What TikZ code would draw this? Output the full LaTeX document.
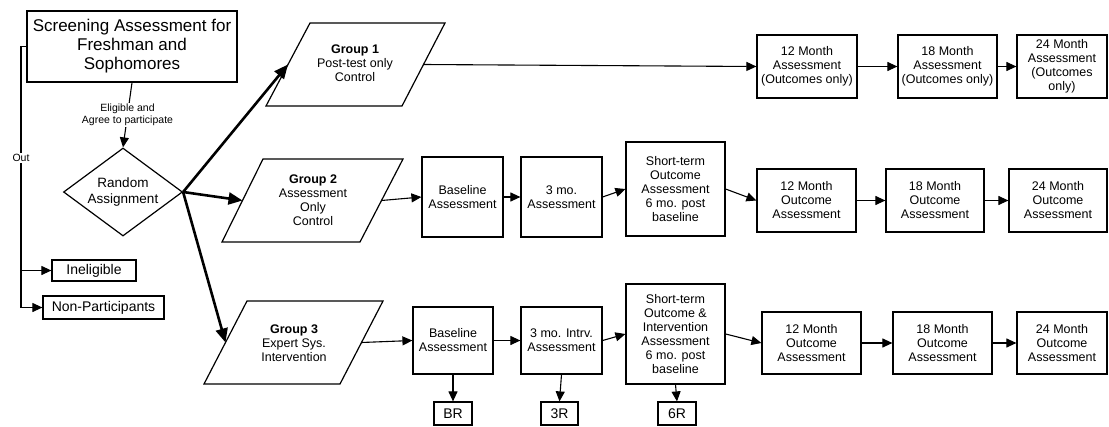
\documentclass[tikz,border=0pt]{standalone}
\usepackage{fontspec}
\setmainfont{Liberation Sans}
\usetikzlibrary{arrows.meta,shapes.geometric}
\newcommand\myfs{\fontsize{12.5}{14}\selectfont}
\newcommand\mybig{\fontsize{17}{19}\selectfont}
\newcommand\mysmall{\fontsize{10.5}{12}\selectfont}
\newcommand\mymid{\fontsize{14}{16}\selectfont}
\begin{document}
\begin{tikzpicture}[x=1pt,y=-1pt,
  box/.style={draw, line width=1.2pt, rectangle, align=center, inner sep=0pt, font=\myfs},
  txt/.style={align=center, inner sep=0pt, font=\myfs},
  lbl/.style={align=center, inner sep=1pt, font=\mysmall, fill=white},
  arr/.style={line width=1.1pt, -{Triangle[length=10pt,width=9pt]}},
  thick arr/.style={line width=2.6pt, -{Triangle[length=14pt,width=12pt]}},
  para/.style={draw, line width=1.2pt, line join=miter}
]
\useasboundingbox (0,0) rectangle (1109,426);

% left part
\node[box, font=\mybig, minimum width=210, minimum height=71] (scr) at (132,46.5)
  {Screening Assessment for\\Freshman and\\Sophomores};
\node[box, font=\mymid, minimum width=84, minimum height=21] (inel) at (94,270.5) {Ineligible};
\node[box, font=\mymid, minimum width=121, minimum height=23] (nonp) at (103.5,307.5) {Non-Participants};
\node[draw, line width=1.2pt, diamond, minimum width=119, minimum height=88, inner sep=0pt] (rand) at (123,192) {};
\node[txt, font=\fontsize{13.5}{16}\selectfont] (randt) at (123,192) {Random\\Assignment};

\coordinate (outcorner) at (21,46.5);
\draw[arr] (scr.west) -- (outcorner) |- (nonp.west);
\draw[arr] (outcorner |- inel.west) -- (inel.west);
\node[lbl] (outlbl) at (21,158) {Out};
\draw[arr] (scr.south) -- node[lbl] (elig) {Eligible and\\Agree to participate} (rand.north);

% groups (parallelograms)
\draw[para] (310,23) -- (445,23) -- (402,106) -- (266,106) -- cycle;
\draw[para] (263,159) -- (403,159) -- (360,242) -- (222,242) -- cycle;
\draw[para] (247,301) -- (383,301) -- (340,384) -- (204,384) -- cycle;
\coordinate (g1in) at (288,64.5);
\coordinate (g1out) at (423.5,64.5);
\coordinate (g2in) at (242.5,200.5);
\coordinate (g2out) at (381.5,200.5);
\coordinate (g3in) at (225.5,342.5);
\coordinate (g3out) at (361.5,342.5);
\node[txt] (g1) at (355,63) {\textbf{Group 1}\\Post-test only\\Control};
\node[txt] (g2) at (313,200) {\textbf{Group 2}\\Assessment\\Only\\Control};
\node[txt] (g3) at (294,343) {\textbf{Group 3}\\Expert Sys.\\Intervention};

\draw[thick arr] (rand.east) -- (g1in);
\draw[thick arr] (rand.east) -- (g2in);
\draw[thick arr] (rand.east) -- (g3in);

% row 1
\node[box, minimum width=100, minimum height=63] (r1a) at (807,66.5) {12 Month\\Assessment\\(Outcomes only)};
\node[box, minimum width=99, minimum height=63] (r1b) at (947.5,66.5) {18 Month\\Assessment\\(Outcomes only)};
\node[box, minimum width=90, minimum height=63] (r1c) at (1062,66.5) {24 Month\\Assessment\\(Outcomes\\only)};
\draw[arr] (g1out) -- (r1a.west);
\draw[arr] (r1a.east) -- (r1b.west);
\draw[arr] (r1b.east) -- (r1c.west);

% row 2
\node[box, minimum width=81, minimum height=80] (r2base) at (462.5,197) {Baseline\\Assessment};
\node[box, minimum width=81, minimum height=80] (r2three) at (561.5,197) {3 mo.\\Assessment};
\node[box, minimum width=99, minimum height=94] (r2short) at (675.5,189) {Short-term\\Outcome\\Assessment\\6 mo. post\\baseline};
\node[box, minimum width=99, minimum height=63] (r2a) at (806.5,200.5) {12 Month\\Outcome\\Assessment};
\node[box, minimum width=98, minimum height=63] (r2b) at (935,200.5) {18 Month\\Outcome\\Assessment};
\node[box, minimum width=98, minimum height=63] (r2c) at (1058,200.5) {24 Month\\Outcome\\Assessment};
\draw[arr] (g2out) -- (r2base.west);
\draw[arr] (r2base.east) -- (r2three.west);
\draw[arr] (r2three.east) -- (r2short.west);
\draw[arr] (r2short.east) -- (r2a.west);
\draw[arr] (r2a.east) -- (r2b.west);
\draw[arr] (r2b.east) -- (r2c.west);

% row 3
\node[box, minimum width=80, minimum height=67] (r3base) at (453,340.5) {Baseline\\Assessment};
\node[box, minimum width=81, minimum height=67] (r3three) at (561.5,340.5) {3 mo. Intrv.\\Assessment};
\node[box, minimum width=99, minimum height=100] (r3short) at (675.5,334) {Short-term\\Outcome \&\\Intervention\\Assessment\\6 mo. post\\baseline};
\node[box, minimum width=99, minimum height=62] (r3a) at (811.5,343) {12 Month\\Outcome\\Assessment};
\node[box, minimum width=99, minimum height=62] (r3b) at (942.5,343) {18 Month\\Outcome\\Assessment};
\node[box, minimum width=90, minimum height=62] (r3c) at (1062,343) {24 Month\\Outcome\\Assessment};
\node[box, font=\mymid, minimum width=38, minimum height=23] (br) at (453,413.5) {BR};
\node[box, font=\mymid, minimum width=37, minimum height=23] (tr) at (559.5,413.5) {3R};
\node[box, font=\mymid, minimum width=38, minimum height=23] (sr) at (677,413.5) {6R};
\draw[arr] (g3out) -- (r3base.west);
\draw[arr] (r3base.east) -- (r3three.west);
\draw[arr] (r3three.east) -- (r3short.west);
\draw[arr] (r3short.east) -- (r3a.west);
\draw[arr] (r3a.east) -- (r3b.west);
\draw[arr] (r3b.east) -- (r3c.west);
\draw[arr] (r3base.south) -- (br.north);
\draw[arr] (r3three.south) -- (tr.north);
\draw[arr] (r3short.south) -- (sr.north);
\end{tikzpicture}
\end{document}
